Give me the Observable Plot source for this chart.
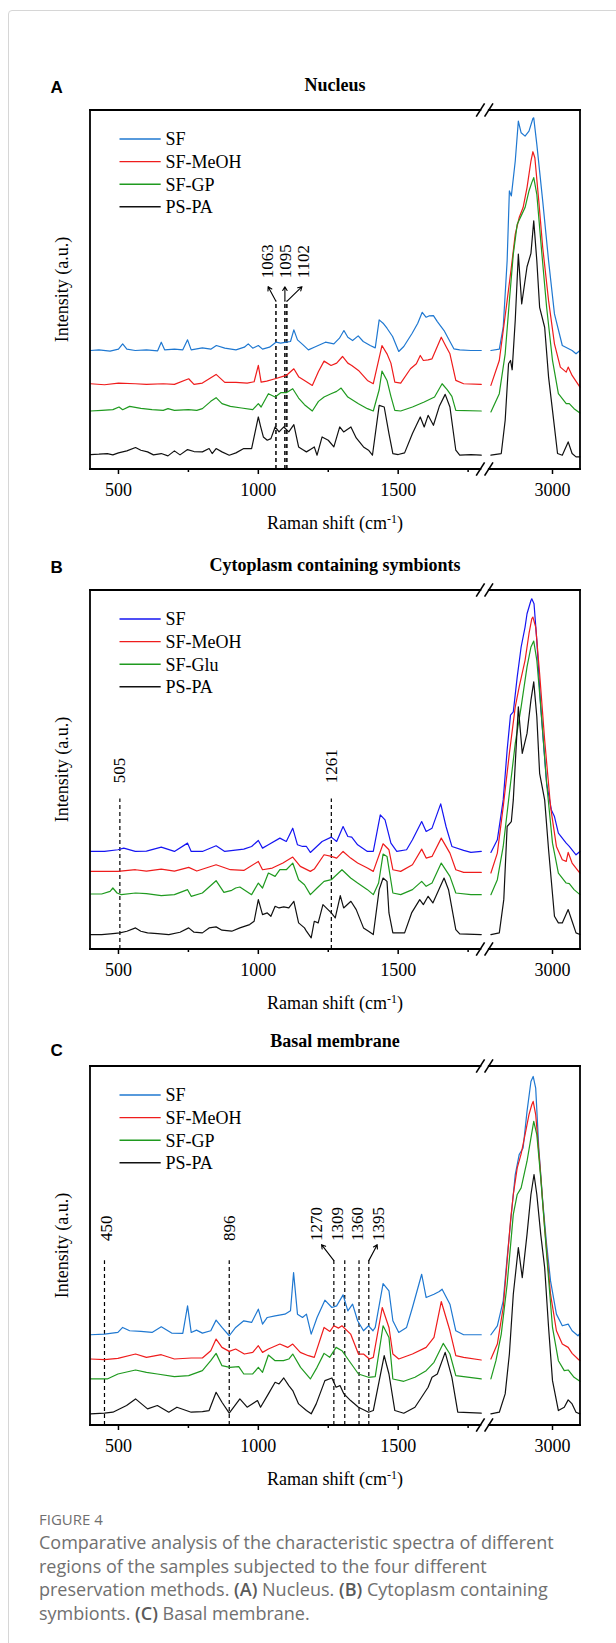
<!DOCTYPE html>
<html><head><meta charset="utf-8">
<script src="https://cdn.jsdelivr.net/npm/d3@7"></script>
<script src="https://cdn.jsdelivr.net/npm/@observablehq/plot@0.6"></script>
<style>
body{margin:0;background:#fff;}
#page{position:relative;width:616px;height:1643px;overflow:hidden;background:#fff;}
#border{position:absolute;left:8px;top:10px;width:660px;height:1680px;border:1px solid #d6d6d6;border-radius:4px;}
.panel{position:absolute;left:0;}
#fig{position:absolute;left:39px;top:1509px;font-family:"Open Sans",sans-serif;font-size:15px;line-height:20px;color:#707070;}
#cap{position:absolute;left:39px;top:1531px;font-family:"Open Sans",sans-serif;font-size:18px;line-height:23.5px;color:#707070;white-space:nowrap;}
#cap b{font-weight:600;color:#5a5a5a;}
</style></head>
<body><div id="page"><div id="border"></div>
<div id="pA" class="panel" style="top:60px"></div>
<div id="pB" class="panel" style="top:540px"></div>
<div id="pC" class="panel" style="top:1016px"></div>
<div id="fig">FIGURE 4</div>
<div id="cap">Comparative analysis of the characteristic spectra of different<br>regions of the samples subjected to the four different<br>preservation methods. <b>(A)</b> Nucleus. <b>(B)</b> Cytoplasm containing<br>symbionts. <b>(C)</b> Basal membrane.</div>
</div>
<script>
// ---------- axis ----------
const majorTicks = [500, 1000, 1500, 3000];
const minorTicks = [750, 1250, 1750];
const xDomain = [400, 1800, 2770, 3100];   // broken axis: 400–1800 | 2770–3100
const namesA = ["SF", "SF-MeOH", "SF-GP", "PS-PA"];
const namesB = ["SF", "SF-MeOH", "SF-Glu", "PS-PA"];
const namesC = ["SF", "SF-MeOH", "SF-GP", "PS-PA"];
const colorsAC = ["#1f78d1", "#ef1c1c", "#1f9a1f", "#111111"];
const colorsB = ["#1515f2", "#ef1c1c", "#1f9a1f", "#111111"];

// ---------- Panel A: Nucleus (intensity a.u., offset-stacked) ----------
const nucSF_lo = [[400,358],[430,360],[470,356],[500,362],[515,378],[530,362],[560,358],[600,360],[640,357],[653,383],[665,360],[700,362],[730,360],[747,390],[760,360],[800,366],[830,362],[850,373],[880,365],[920,360],[950,368],[964,378],[980,365],[1000,373],[1015,362],[1040,368],[1063,383],[1080,380],[1100,383],[1115,385],[1127,420],[1140,390],[1160,375],[1179,360],[1200,368],[1240,383],[1270,378],[1290,395],[1306,418],[1320,398],[1337,388],[1357,402],[1375,385],[1400,373],[1418,366],[1432,450],[1446,440],[1460,425],[1480,400],[1502,355],[1520,370],[1550,410],[1570,440],[1586,473],[1600,458],[1610,462],[1626,463],[1640,445],[1664,418],[1685,385],[1699,363],[1720,360],[1760,358],[1797,358]];
const nucSF_hi = [[2780,358],[2810,362],[2824,428],[2838,628],[2846,838],[2853,823],[2867,928],[2878,1048],[2888,1013],[2902,1003],[2916,1018],[2930,1056],[2933,1058],[2944,978],[2965,808],[2986,628],[3007,468],[3035,373],[3070,358],[3084,348],[3098,358]];
const nucMeOH_lo = [[400,258],[450,255],[500,260],[560,258],[600,256],[660,258],[700,256],[751,273],[770,256],[800,260],[849,286],[880,262],[920,262],[960,260],[985,264],[1000,313],[1010,263],[1030,266],[1060,273],[1088,280],[1100,283],[1127,303],[1145,278],[1165,268],[1193,253],[1215,295],[1235,326],[1260,313],[1280,320],[1301,340],[1320,320],[1334,313],[1358,298],[1390,268],[1411,258],[1442,373],[1460,348],[1474,320],[1488,263],[1509,260],[1544,303],[1565,318],[1579,343],[1590,328],[1607,330],[1621,333],[1654,398],[1671,370],[1685,348],[1706,268],[1734,258],[1797,256]];
const nucMeOH_hi = [[2780,253],[2810,328],[2838,508],[2853,608],[2867,708],[2881,758],[2895,788],[2909,848],[2923,928],[2930,956],[2937,938],[2951,808],[2965,668],[2986,508],[3007,378],[3028,308],[3049,293],[3056,308],[3070,283],[3098,248]];
const nucGP_lo = [[400,176],[440,178],[480,180],[502,188],[515,180],[540,190],[580,184],[620,180],[660,178],[677,183],[700,178],[750,180],[780,178],[800,183],[830,205],[849,216],[870,198],[900,190],[940,185],[980,180],[1000,198],[1010,188],[1036,228],[1060,218],[1080,231],[1100,231],[1123,243],[1144,215],[1165,195],[1193,176],[1215,205],[1235,218],[1260,228],[1280,235],[1296,245],[1320,218],[1358,198],[1390,183],[1411,176],[1432,240],[1442,296],[1460,268],[1474,220],[1488,178],[1509,176],[1551,188],[1593,203],[1630,218],[1657,258],[1675,240],[1692,220],[1706,178],[1797,176]];
const nucGP_hi = [[2780,173],[2810,228],[2831,348],[2846,508],[2860,648],[2874,738],[2888,763],[2902,788],[2916,838],[2926,863],[2933,878],[2944,828],[2958,688],[2979,488],[3000,328],[3021,228],[3049,198],[3060,198],[3077,183],[3098,170]];
const nucPSPA_lo = [[400,45],[430,46],[460,48],[480,44],[500,50],[530,56],[561,66],[580,58],[604,53],[625,44],[653,48],[677,41],[700,56],[720,44],[747,60],[770,54],[800,53],[824,63],[835,48],[849,63],[870,53],[896,43],[920,50],[948,63],[976,63],[1000,158],[1008,130],[1018,98],[1032,88],[1045,93],[1060,128],[1074,113],[1091,128],[1109,113],[1127,135],[1144,68],[1158,60],[1172,53],[1189,62],[1200,68],[1210,43],[1228,98],[1250,88],[1270,68],[1291,128],[1305,113],[1331,128],[1350,95],[1376,68],[1394,58],[1408,43],[1432,193],[1450,188],[1467,108],[1481,48],[1500,45],[1523,50],[1551,108],[1579,158],[1593,128],[1607,163],[1626,133],[1647,190],[1668,226],[1685,188],[1706,58],[1720,43],[1760,45],[1797,43]];
const nucPSPA_hi = [[2780,43],[2817,48],[2831,148],[2843,318],[2850,328],[2856,300],[2867,450],[2878,648],[2890,498],[2909,610],[2923,650],[2933,748],[2944,628],[2954,488],[2972,428],[2986,278],[3000,178],[3018,48],[3035,43],[3056,83],[3070,48],[3084,38],[3098,38]];

// ---------- Panel B: Cytoplasm containing symbionts ----------
const cytSF_lo = [[400,295],[450,295],[498,300],[519,305],[560,295],[600,296],[653,308],[700,295],[747,320],[760,295],[800,295],[849,312],[880,295],[948,302],[976,310],[1000,328],[1015,305],[1036,315],[1077,335],[1100,325],[1123,365],[1140,315],[1158,310],[1172,310],[1186,292],[1228,325],[1261,338],[1280,325],[1303,370],[1320,340],[1334,338],[1355,315],[1390,295],[1411,295],[1436,405],[1453,390],[1474,320],[1495,295],[1530,300],[1551,330],[1584,385],[1600,355],[1621,365],[1652,438],[1671,370],[1692,310],[1734,298],[1760,292],[1797,295]];
const cytSF_hi = [[2780,292],[2803,330],[2824,450],[2838,600],[2850,705],[2860,715],[2874,820],[2888,910],[2902,970],[2909,1010],[2923,1050],[2926,1055],[2934,1040],[2944,930],[2958,730],[2979,500],[2996,420],[3007,400],[3021,350],[3049,320],[3060,310],[3084,285],[3098,295]];
const cytMeOH_lo = [[400,235],[450,235],[498,235],[561,240],[600,236],[653,242],[700,236],[751,247],[780,236],[849,255],[900,240],[948,238],[1000,265],[1015,240],[1050,245],[1088,260],[1123,278],[1150,250],[1186,235],[1200,242],[1235,285],[1261,280],[1280,275],[1303,295],[1330,275],[1355,260],[1390,245],[1411,235],[1446,318],[1467,300],[1481,240],[1509,235],[1551,255],[1584,302],[1600,275],[1621,280],[1654,335],[1685,290],[1706,240],[1734,232],[1797,232]];
const cytMeOH_hi = [[2780,230],[2803,290],[2824,430],[2846,590],[2867,730],[2881,790],[2902,870],[2916,950],[2926,995],[2930,1000],[2940,970],[2954,830],[2972,630],[2993,430],[3014,310],[3035,270],[3049,265],[3056,292],[3070,260],[3098,230]];
const cytGlu_lo = [[400,167],[440,167],[470,175],[480,185],[495,170],[510,165],[561,170],[600,168],[653,162],[700,165],[747,180],[760,160],[800,170],[849,207],[877,172],[905,178],[919,185],[934,188],[976,165],[1000,200],[1015,185],[1036,230],[1060,220],[1077,240],[1100,240],[1123,260],[1144,210],[1165,195],[1186,165],[1210,185],[1235,205],[1261,210],[1299,240],[1330,215],[1355,200],[1390,180],[1411,165],[1430,200],[1446,287],[1460,280],[1481,170],[1509,165],[1551,180],[1584,205],[1600,190],[1621,200],[1654,260],[1685,220],[1706,170],[1760,165],[1797,165]];
const cytGlu_hi = [[2780,165],[2803,210],[2824,310],[2846,470],[2867,620],[2888,730],[2909,850],[2923,910],[2933,928],[2944,870],[2958,730],[2979,500],[3000,320],[3021,230],[3049,200],[3060,198],[3077,180],[3098,165]];
const cytPSPA_lo = [[400,45],[440,45],[480,48],[505,50],[530,55],[561,65],[580,55],[604,50],[640,48],[680,45],[720,52],[751,65],[770,52],[800,50],[824,65],[849,68],[870,58],[905,55],[934,65],[969,75],[985,85],[1000,150],[1015,105],[1032,110],[1045,100],[1060,130],[1074,125],[1091,128],[1109,125],[1127,145],[1144,80],[1165,65],[1172,55],[1189,35],[1200,85],[1214,80],[1231,135],[1261,110],[1275,95],[1293,162],[1305,125],[1331,145],[1350,120],[1376,65],[1394,55],[1411,45],[1432,180],[1446,215],[1460,205],[1467,110],[1481,50],[1523,50],[1548,110],[1577,150],[1590,135],[1607,160],[1624,140],[1664,215],[1680,180],[1706,60],[1720,47],[1797,45]];
const cytPSPA_hi = [[2780,45],[2810,50],[2826,150],[2838,370],[2853,385],[2860,450],[2878,730],[2892,590],[2909,650],[2923,750],[2933,805],[2944,700],[2954,530],[2972,450],[2986,300],[3007,100],[3021,80],[3035,80],[3056,120],[3070,85],[3084,50],[3098,45]];

// ---------- Panel C: Basal membrane ----------
const basSF_lo = [[400,273],[450,275],[498,280],[515,295],[540,285],[580,283],[620,280],[653,297],[690,278],[730,277],[747,360],[760,280],[779,287],[800,278],[830,285],[849,317],[870,295],[896,270],[919,295],[948,315],[976,310],[1000,350],[1015,305],[1032,325],[1060,330],[1095,335],[1115,345],[1126,460],[1140,335],[1158,325],[1172,335],[1189,275],[1210,325],[1238,377],[1263,355],[1280,360],[1303,393],[1320,345],[1337,365],[1355,315],[1376,285],[1394,300],[1410,285],[1418,295],[1446,427],[1467,405],[1481,315],[1502,280],[1530,295],[1551,355],[1584,455],[1600,385],[1628,395],[1647,403],[1657,410],[1685,365],[1706,285],[1734,273],[1797,273]];
const basSF_hi = [[2780,273],[2803,300],[2824,375],[2838,505],[2853,635],[2867,755],[2881,815],[2895,835],[2909,945],[2923,1035],[2931,1050],[2940,1015],[2951,835],[2965,675],[2979,545],[2993,435],[3014,335],[3035,300],[3056,305],[3070,285],[3091,270],[3098,277]];
const basMeOH_lo = [[400,200],[450,198],[498,202],[561,215],[600,205],[653,213],[700,200],[760,203],[800,203],[830,225],[849,260],[870,235],[896,223],[919,230],[950,215],[980,220],[1000,240],[1015,220],[1036,230],[1077,245],[1105,235],[1123,245],[1150,220],[1179,210],[1200,205],[1235,295],[1256,283],[1270,300],[1287,293],[1299,300],[1330,275],[1358,215],[1376,215],[1397,200],[1411,205],[1443,355],[1467,295],[1481,215],[1502,200],[1551,215],[1600,235],[1628,265],[1654,373],[1685,285],[1706,210],[1734,205],[1797,197]];
const basMeOH_hi = [[2780,200],[2803,245],[2824,355],[2838,495],[2850,615],[2860,695],[2874,775],[2888,817],[2902,875],[2916,935],[2926,965],[2931,975],[2940,935],[2954,795],[2972,595],[2993,395],[3014,285],[3035,245],[3056,235],[3070,217],[3091,200],[3098,195]];
const basGP_lo = [[400,140],[460,140],[498,155],[561,167],[600,160],[639,155],[700,147],[751,150],[800,165],[830,195],[849,217],[870,180],[898,175],[930,177],[948,155],[980,155],[1000,175],[1015,160],[1036,212],[1060,195],[1090,195],[1109,200],[1123,215],[1151,175],[1186,140],[1210,175],[1235,217],[1255,205],[1278,235],[1299,225],[1320,200],[1358,155],[1394,145],[1418,147],[1446,300],[1467,265],[1481,140],[1520,133],[1560,145],[1600,165],[1628,190],[1661,247],[1685,215],[1706,150],[1797,140]];
const basGP_hi = [[2780,140],[2798,195],[2817,275],[2838,425],[2860,635],[2874,695],[2888,715],[2909,795],[2923,865],[2933,915],[2944,875],[2958,745],[2979,515],[3000,295],[3021,195],[3042,165],[3056,167],[3077,145],[3098,133]];
const basPSPA_lo = [[400,35],[450,37],[480,40],[529,60],[561,80],[604,50],[639,60],[680,40],[709,55],[760,40],[800,42],[824,45],[849,100],[870,70],[896,37],[934,80],[960,55],[997,75],[1008,55],[1036,95],[1060,130],[1074,125],[1091,143],[1109,120],[1123,105],[1144,65],[1172,45],[1189,35],[1207,65],[1238,135],[1263,143],[1278,115],[1292,120],[1306,95],[1330,75],[1358,55],[1394,40],[1411,45],[1450,210],[1467,155],[1488,45],[1520,37],[1560,55],[1607,115],[1621,145],[1640,155],[1668,220],[1692,145],[1713,40],[1797,37]];
const basPSPA_hi = [[2780,35],[2810,40],[2831,95],[2846,215],[2860,395],[2878,535],[2892,445],[2909,575],[2923,695],[2934,755],[2944,695],[2958,575],[2972,475],[2986,295],[3000,135],[3021,45],[3042,55],[3056,77],[3070,65],[3084,40],[3098,35]];

// ---------- annotations (marked Raman bands) ----------
const annotA = [1063, 1095, 1102];
const annotA_labelAt = [1032, 1097, 1161];
const annotA_tipAt = [1035, 1095, 1156];
const annotB = [505, 1261];
const annotB_labelAt = [505, 1261];
const annotC = [450, 896, 1270, 1309, 1360, 1395];
const annotC_labelAt = [456, 898, 1207, 1284, 1356, 1429];
const annotC_tipAt = [null, null, 1226, null, null, 1425];

const FONT = "Liberation Serif, Times New Roman, serif";

function chrome(cfg) {
  return (index, scales, values, dims) => {
    const x = scales.x;
    const L = dims.marginLeft, R = dims.width - dims.marginRight;
    const T = dims.marginTop, B = dims.height - dims.marginBottom;
    const c = (x(xDomain[1]) + x(xDomain[2])) / 2;
    const h = 4.2, sx = 4.2, sy = 6.7;
    const g = d3.create("svg:g");
    const ln = (x1, y1, x2, y2, col, w) => g.append("line").attr("x1", x1).attr("y1", y1).attr("x2", x2).attr("y2", y2)
      .attr("stroke", col).attr("stroke-width", w).attr("stroke-linecap", "square");
    ln(L, T, L, B, "#000", 1.8); ln(R, T, R, B, "#000", 1.8);
    for (const y of [T, B]) {
      ln(L, y, c - h, y, "#000", 1.8); ln(c + h, y, R, y, "#000", 1.8);
      for (const cx of [c - h, c + h]) ln(cx - sx, y + sy, cx + sx, y - sy, "#000", 1.6).attr("stroke-linecap", "butt");
    }
    // legend
    cfg.names.forEach((n, i) => {
      const y = T + 29 + i * 22.6;
      ln(L + 29.5, y, L + 70.7, y, cfg.colors[i], 1.4).attr("stroke-linecap", "butt");
      g.append("text").attr("x", L + 75.4).attr("y", y).attr("dy", "0.36em").attr("text-anchor", "start")
        .attr("font-family", FONT).attr("font-size", 18).attr("fill", "#000").text(n);
    });
    // y label
    g.append("text").attr("transform", `translate(${L - 28},${(T + B) / 2}) rotate(-90)`).attr("text-anchor", "middle")
      .attr("dy", "0.35em").attr("font-family", FONT).attr("font-size", 18).attr("fill", "#000").text("Intensity (a.u.)");
    // x label
    const xl = g.append("text").attr("x", (L + R) / 2).attr("y", B + 54).attr("dy", "0.35em").attr("text-anchor", "middle")
      .attr("font-family", FONT).attr("font-size", 18).attr("fill", "#000");
    xl.append("tspan").text("Raman shift (cm");
    xl.append("tspan").attr("font-size", 12).attr("dy", "-0.55em").text("-1");
    xl.append("tspan").attr("dy", "0.37em").text(")");
    // title and panel letter
    g.append("text").attr("x", (L + R) / 2).attr("y", T - 25).attr("dy", "0.35em").attr("text-anchor", "middle")
      .attr("font-family", FONT).attr("font-weight", "bold").attr("font-size", 18).attr("fill", "#000").text(cfg.title);
    g.append("text").attr("x", L - 33.4).attr("y", T - cfg.letterOffset).attr("dy", "0.36em").attr("text-anchor", "middle")
      .attr("font-family", "Liberation Sans, Arial, sans-serif").attr("font-weight", "bold").attr("font-size", 17).attr("fill", "#000").text(cfg.letter);
    return g.node();
  };
}

function drawPanel(el, cfg) {
  const rows = [];
  cfg.series.forEach((s, i) => {
    s[0].forEach(([wn, v]) => rows.push({name: cfg.names[i], seg: "lo", wn, v}));
    s[1].forEach(([wn, v]) => rows.push({name: cfg.names[i], seg: "hi", wn, v}));
  });
  const ann = cfg.annot.map((wn, i) => ({wn, labelWn: cfg.labelAt[i], tipWn: cfg.tipAt ? cfg.tipAt[i] : null}));
  const withArrow = ann.filter(d => d.tipWn != null);
  const chart = Plot.plot({
    width: 616, height: 480,
    marginTop: 50, marginBottom: 71, marginLeft: 90, marginRight: 36,
    style: {fontFamily: FONT, background: "transparent", overflow: "visible"},
    x: {type: "linear", domain: xDomain, range: [90, 481.6, 487.6, 580]},
    y: {domain: [0, 1080], axis: null},
    color: {domain: cfg.names, range: cfg.colors},
    marks: [
      Plot.axisX({ticks: majorTicks, tickFormat: d => String(d), tickSize: 5, tickPadding: 9, fontSize: 18, strokeWidth: 1.5, stroke: "#000", fill: "#000", label: null}),
      Plot.axisX({ticks: minorTicks, tickSize: 3, strokeWidth: 1.5, stroke: "#000", text: null, label: null}),
      Plot.ruleX(ann, {x: "wn", y1: 0, y2: cfg.dashTop, stroke: "#000", strokeWidth: cfg.dashWidth, strokeDasharray: "4,3"}),
      Plot.arrow(withArrow, {x1: "wn", y1: cfg.dashTop, x2: "tipWn", y2: cfg.tipV, stroke: "#000", strokeWidth: 1.1, headLength: 6}),
      Plot.text(ann, {x: "labelWn", y: cfg.labelBottom, text: d => String(d.wn), rotate: -90, textAnchor: "start", lineAnchor: "middle", fontSize: 17, fill: "#000"}),
      Plot.line(rows, {x: "wn", y: "v", z: d => d.name + d.seg, stroke: "name", strokeWidth: 1.2, curve: "linear"}),
      chrome(cfg)
    ]
  });
  document.getElementById(el).appendChild(chart);
}

drawPanel("pA", {
  names: namesA, colors: colorsAC, title: "Nucleus", letter: "A", letterOffset: 23,
  series: [[nucSF_lo, nucSF_hi], [nucMeOH_lo, nucMeOH_hi], [nucGP_lo, nucGP_hi], [nucPSPA_lo, nucPSPA_hi]],
  annot: annotA, labelAt: annotA_labelAt, tipAt: annotA_tipAt, dashTop: 506, tipV: 550, labelBottom: 575, dashWidth: 1.5
});
drawPanel("pB", {
  names: namesB, colors: colorsB, title: "Cytoplasm containing symbionts", letter: "B", letterOffset: 23,
  series: [[cytSF_lo, cytSF_hi], [cytMeOH_lo, cytMeOH_hi], [cytGlu_lo, cytGlu_hi], [cytPSPA_lo, cytPSPA_hi]],
  annot: annotB, labelAt: annotB_labelAt, tipAt: null, dashTop: 453, tipV: 0, labelBottom: 500, dashWidth: 1.2
});
drawPanel("pC", {
  names: namesC, colors: colorsAC, title: "Basal membrane", letter: "C", letterOffset: 16,
  series: [[basSF_lo, basSF_hi], [basMeOH_lo, basMeOH_hi], [basGP_lo, basGP_hi], [basPSPA_lo, basPSPA_hi]],
  annot: annotC, labelAt: annotC_labelAt, tipAt: annotC_tipAt, dashTop: 496, tipV: 544, labelBottom: 555, dashWidth: 1.2
});
</script></body></html>
